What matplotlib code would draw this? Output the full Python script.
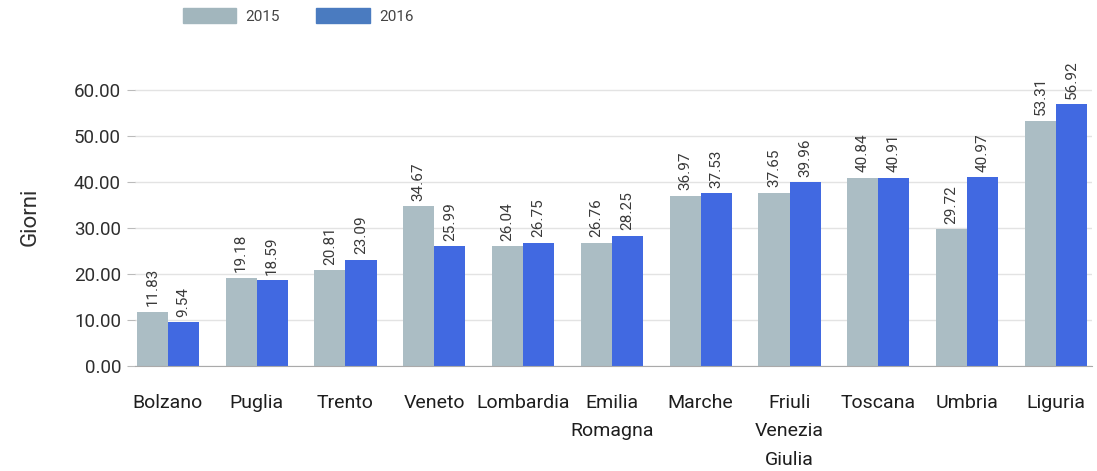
import numpy as np
import matplotlib.pyplot as plt
from matplotlib.patches import Patch

plt.rcParams['font.family'] = ['Roboto', 'DejaVu Sans']

regions = ['Bolzano', 'Puglia', 'Trento', 'Veneto', 'Lombardia', 'Emilia\nRomagna',
           'Marche', 'Friuli\nVenezia\nGiulia', 'Toscana', 'Umbria', 'Liguria']
days_2015 = [11.83, 19.18, 20.81, 34.67, 26.04, 26.76, 36.97, 37.65, 40.84, 29.72, 53.31]
days_2016 = [9.54, 18.59, 23.09, 25.99, 26.75, 28.25, 37.53, 39.96, 40.91, 40.97, 56.92]

c2015 = '#abbdc4'
c2016 = '#4169e1'

fig = plt.figure(figsize=(10.97, 4.71), dpi=100)
ax = fig.add_axes([0.123, 0.223, 0.872, 0.635])

x = np.arange(len(regions))
w = 0.35
b1 = ax.bar(x - w / 2, days_2015, w, color=c2015, zorder=2)
b2 = ax.bar(x + w / 2, days_2016, w, color=c2016, zorder=2)

# rotated value labels above each bar
for bars, vals in ((b1, days_2015), (b2, days_2016)):
    for bar, v in zip(bars, vals):
        ax.annotate(f'{v:.2f}', (bar.get_x() + bar.get_width() / 2, v),
                    xytext=(0, 4), textcoords='offset points',
                    ha='center', va='bottom', rotation=90,
                    fontsize=11, color='#3a3a3a')

ax.set_xlim(-0.37, 10.4)
ax.set_ylim(0, 65)
ax.set_yticks(np.arange(0, 61, 10))
ax.set_yticklabels([f'{t:.2f}' for t in np.arange(0, 61, 10)])
ax.set_xticks(x)
ax.set_xticklabels(regions, fontsize=14, color='#1e1e1e', linespacing=1.75)
ax.tick_params(axis='y', labelsize=13.5, labelcolor='#2e2e2e', length=6, color='#bbbbbb', pad=4)
ax.tick_params(axis='x', length=0, pad=20)
ax.grid(axis='y', color='#e3e3e3', linewidth=1, zorder=0)
for s in ('top', 'right', 'left'):
    ax.spines[s].set_visible(False)
ax.spines['bottom'].set_color('#aaaaaa')
ax.set_ylabel('Giorni', fontsize=16, color='#2e2e2e', labelpad=24)

handles = [Patch(color='#a2b6bd', label='2015'), Patch(color='#4a7bc0', label='2016')]
fig.legend(handles=handles, loc='upper left', bbox_to_anchor=(0.154, 1.012), ncol=2,
           frameon=False, fontsize=11, handlelength=3.5, handleheight=1.1,
           columnspacing=2.4, handletextpad=0.6, labelcolor='#444444')

fig.savefig('out.png', dpi=100)
